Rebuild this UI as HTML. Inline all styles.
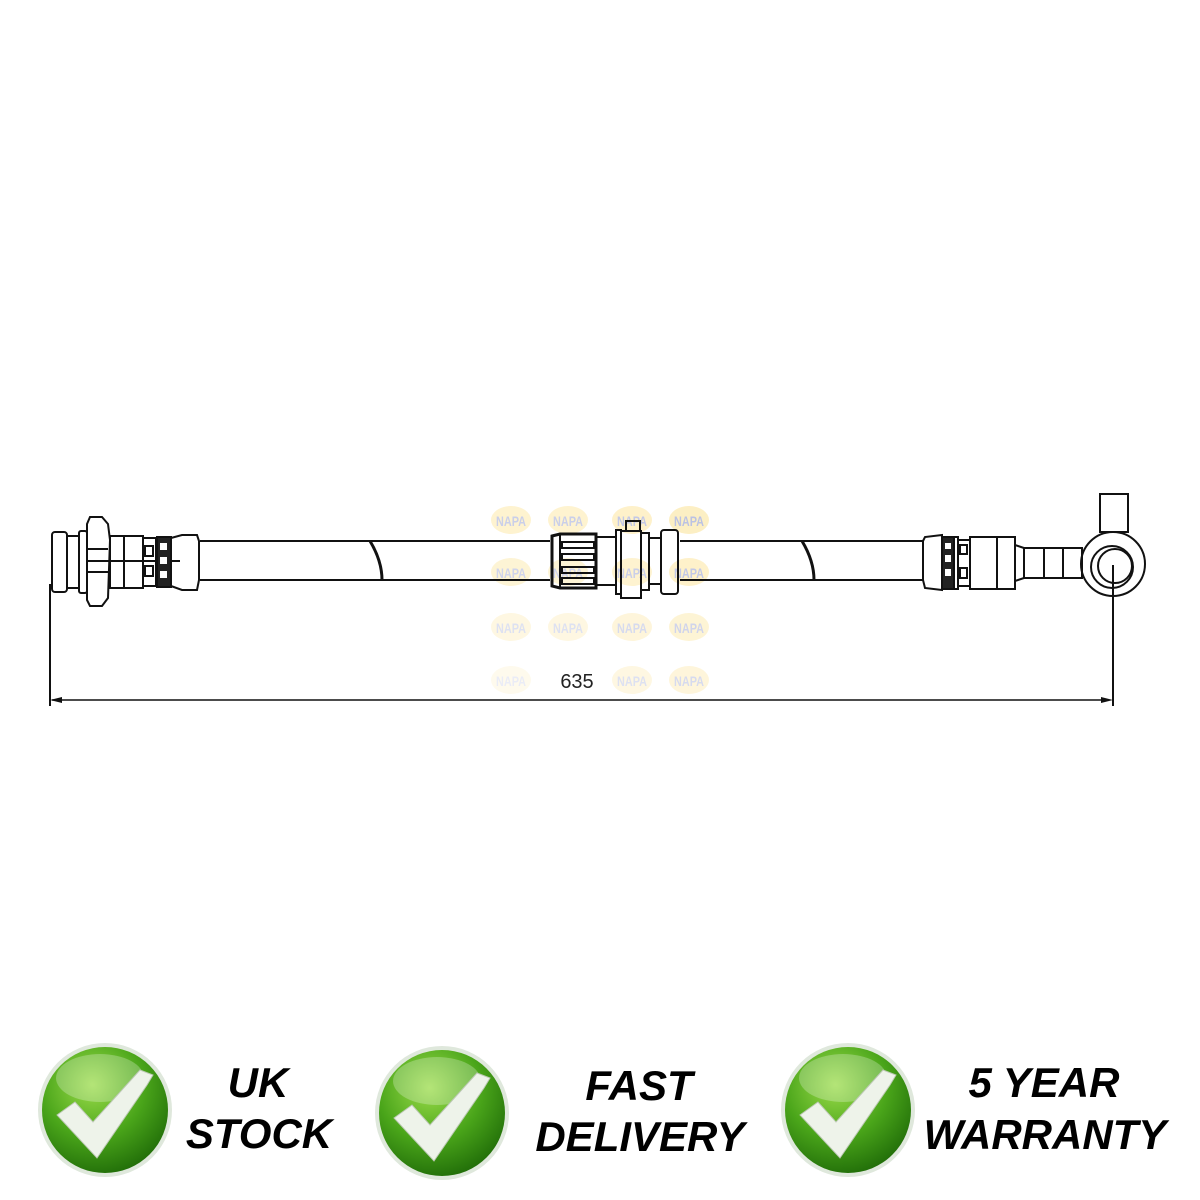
<!DOCTYPE html>
<html><head><style>
body{margin:0;background:#fff;width:1200px;height:1200px;overflow:hidden}
svg{position:absolute;left:0;top:0}
.t{font-family:"Liberation Sans",sans-serif;font-weight:bold;font-style:italic;font-size:42px;fill:#000;text-anchor:middle}
</style></head><body>
<svg width="1200" height="1200" viewBox="0 0 1200 1200">
<defs>
<radialGradient id="g" cx="0.4" cy="0.3" r="0.75">
<stop offset="0" stop-color="#9bdc4a"/><stop offset="0.55" stop-color="#4aa51a"/><stop offset="1" stop-color="#1f6b08"/>
</radialGradient>
<g id="chk">
<circle r="67" fill="#dfe8dc"/>
<circle r="63" fill="url(#g)"/>
<ellipse cx="-5" cy="-32" rx="44" ry="24" fill="#fff" opacity="0.25"/>
<path d="M-48,5 L-30,-8 L-12,12 L35,-40 L48,-35 L42,-25 L-8,48 Z" fill="#eef3ea" stroke="#bcc9b4" stroke-width="1"/>
</g>
<g id="napa" opacity="0.5">
<ellipse rx="20" ry="14" fill="#fbe08a"/>
<text x="0" y="6" font-family="Liberation Sans,sans-serif" font-size="14" font-weight="bold" fill="#7a86c8" text-anchor="middle" textLength="30" lengthAdjust="spacingAndGlyphs">NAPA</text>
</g>
</defs>
<g>
<use href="#napa" x="511" y="520" opacity="0.8"/><use href="#napa" x="568" y="520" opacity="0.8"/><use href="#napa" x="632" y="520" opacity="0.9"/><use href="#napa" x="689" y="520" opacity="1"/>
<use href="#napa" x="511" y="572" opacity="0.7"/><use href="#napa" x="568" y="572" opacity="0.7"/><use href="#napa" x="632" y="572" opacity="0.8"/><use href="#napa" x="689" y="572" opacity="0.9"/>
<use href="#napa" x="511" y="627" opacity="0.5"/><use href="#napa" x="568" y="627" opacity="0.5"/><use href="#napa" x="632" y="627" opacity="0.6"/><use href="#napa" x="689" y="627" opacity="0.7"/>
<use href="#napa" x="511" y="680" opacity="0.3"/><use href="#napa" x="632" y="680" opacity="0.5"/><use href="#napa" x="689" y="680" opacity="0.6"/>
</g>
<g fill="none" stroke="#111" stroke-width="2">
<line x1="200" y1="541" x2="550" y2="541"/><line x1="200" y1="580" x2="550" y2="580"/>
<line x1="680" y1="541" x2="923" y2="541"/><line x1="680" y1="580" x2="923" y2="580"/>
<path d="M370,541 q12,20 12,39" stroke-width="3"/>
<path d="M802,541 q12,20 12,39" stroke-width="3"/>
<rect x="52" y="532" width="15" height="60" rx="3"/>
<rect x="67" y="536" width="12" height="52"/>
<rect x="79" y="531" width="8" height="62" rx="2"/>
<path d="M87,524 L90,517 L102,517 L108,524 L110,540 L108,598 L102,606 L90,606 L87,600 Z"/>
<line x1="87" y1="549" x2="108" y2="549"/><line x1="87" y1="572" x2="108" y2="572"/>
<rect x="110" y="536" width="33" height="52"/>
<line x1="124" y1="536" x2="124" y2="588"/>
<line x1="87" y1="561" x2="180" y2="561"/>
<rect x="143" y="538" width="13" height="48"/>
<rect x="145" y="546" width="8" height="10"/><rect x="145" y="566" width="8" height="10"/>
<rect x="157" y="537" width="14" height="50" fill="#222"/>
<rect x="160" y="543" width="7" height="7" fill="#fff" stroke="none"/><rect x="160" y="557" width="7" height="7" fill="#fff" stroke="none"/><rect x="160" y="571" width="7" height="7" fill="#fff" stroke="none"/>
<path d="M171,538 L182,535 L197,535 L199,541 L199,580 L197,590 L182,590 L171,586 Z"/>
<path d="M552,536 L560,534 L596,534 L596,588 L560,588 L552,586 Z" stroke-width="3"/>
<line x1="560" y1="534" x2="560" y2="588"/>
<rect x="562" y="542" width="32" height="6" stroke-width="2"/>
<rect x="562" y="554" width="32" height="6"/>
<rect x="562" y="567" width="32" height="6"/>
<rect x="562" y="578" width="32" height="6"/>
<rect x="596" y="537" width="20" height="48"/>
<rect x="616" y="530" width="5" height="64"/>
<rect x="621" y="531" width="20" height="67"/>
<rect x="626" y="521" width="14" height="10"/>
<rect x="641" y="533" width="8" height="57"/>
<rect x="649" y="538" width="12" height="46"/>
<rect x="661" y="530" width="17" height="64" rx="3"/>
<path d="M923,541 L925,537 L942,535 L942,590 L925,588 L923,580 Z"/>
<rect x="942" y="537" width="12" height="52" fill="#222"/>
<rect x="945" y="543" width="6" height="6" fill="#fff" stroke="none"/><rect x="945" y="555" width="6" height="7" fill="#fff" stroke="none"/><rect x="945" y="569" width="6" height="7" fill="#fff" stroke="none"/>
<rect x="954" y="537" width="4" height="52"/>
<rect x="958" y="540" width="12" height="46"/>
<rect x="960" y="545" width="7" height="9"/><rect x="960" y="568" width="7" height="10"/>
<rect x="970" y="537" width="45" height="52"/>
<line x1="997" y1="537" x2="997" y2="589"/>
<path d="M1015,545 L1024,548 L1024,578 L1015,581"/>
<rect x="1024" y="548" width="58" height="30"/>
<line x1="1044" y1="548" x2="1044" y2="578"/><line x1="1063" y1="548" x2="1063" y2="578"/>
<circle cx="1113" cy="564" r="32"/>
<circle cx="1112" cy="567" r="21"/>
<circle cx="1115" cy="566" r="17"/>
<rect x="1100" y="494" width="28" height="38"/>
<line x1="50" y1="584" x2="50" y2="706"/>
<line x1="1113" y1="565" x2="1113" y2="706"/>
<line x1="52" y1="700" x2="1106" y2="700" stroke-width="1.5"/>
</g>
<path d="M50,700 L62,697 L62,703 Z" fill="#111"/>
<path d="M1113,700 L1101,697 L1101,703 Z" fill="#111"/>
<text x="577" y="688" font-family="Liberation Sans,sans-serif" font-size="20" fill="#222" text-anchor="middle">635</text>
<use href="#chk" x="105" y="1110"/>
<use href="#chk" x="442" y="1113"/>
<use href="#chk" x="848" y="1110"/>
<text class="t" x="258" y="1097">UK</text>
<text class="t" x="259" y="1148">STOCK</text>
<text class="t" x="639" y="1100">FAST</text>
<text class="t" x="640" y="1151">DELIVERY</text>
<text class="t" x="1044" y="1097">5 YEAR</text>
<text class="t" x="1045" y="1149">WARRANTY</text>
</svg>
</body></html>
